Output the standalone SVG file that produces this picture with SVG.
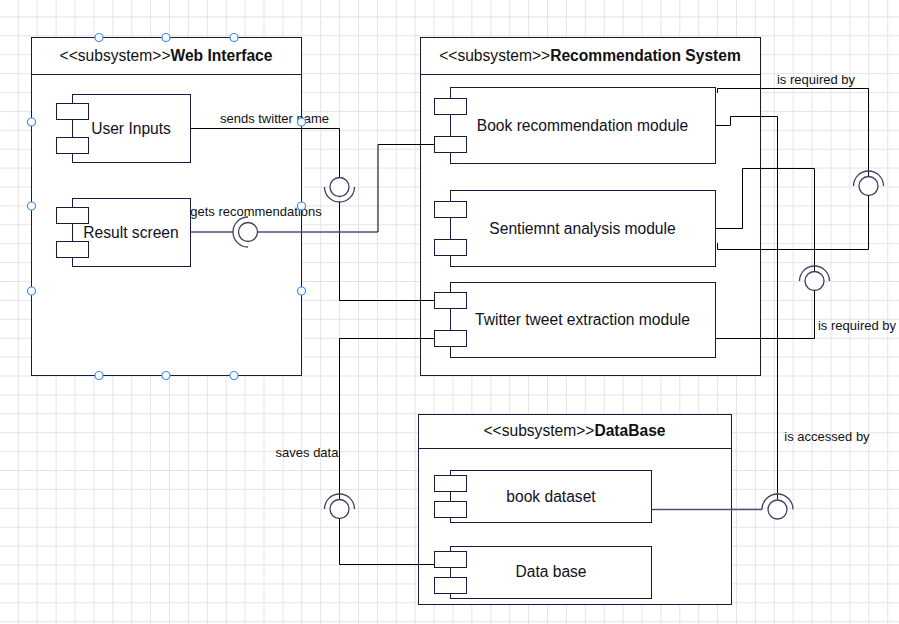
<svg xmlns="http://www.w3.org/2000/svg" width="899" height="624" viewBox="0 0 899 624">
<style>
  .box { fill: #ffffff; stroke: #1a1a3c; stroke-width: 1; }
  .port { fill: #ffffff; stroke: #1a1a3c; stroke-width: 1; }
  .title { font-family: "Liberation Sans", Arial, sans-serif; font-size: 15.6px; fill: #111111; text-anchor: middle; }
  .clabel { font-family: "Liberation Sans", Arial, sans-serif; font-size: 15.6px; fill: #111122; text-anchor: middle; }
  .elabel { font-family: "Liberation Sans", Arial, sans-serif; font-size: 13px; fill: #111111; text-anchor: middle; }
  .wire { fill: none; stroke: #000000; stroke-width: 1; }
  .wire2 { fill: none; stroke: #50506e; stroke-width: 1.3; }
  .ball { fill: #ffffff; stroke: #40405e; stroke-width: 1.3; }
  .sock { fill: none; stroke: #40405e; stroke-width: 1.3; }
  .handle { fill: #ffffff; stroke: #3d8ef0; stroke-width: 1.2; }
</style>
<defs>
  <pattern id="grid" patternUnits="userSpaceOnUse" x="-1.1" y="-2.5" width="18.9" height="18.9">
    <rect x="0" y="0" width="1" height="18.9" fill="#e4e4e4"/>
    <rect x="0" y="0" width="18.9" height="1" fill="#e4e4e4"/>
  </pattern>
  <g id="ports">
    <rect class="port" x="0" y="0" width="32" height="16"/>
  </g>
</defs>
<rect x="0" y="0" width="899" height="624" fill="#ffffff"/>
<rect x="0" y="0" width="899" height="624" fill="url(#grid)"/>

<g id="web-interface">
  <rect class="box" x="31.5" y="37.5" width="270" height="338"/>
  <line x1="31.5" y1="74.5" x2="301.5" y2="74.5" stroke="#1a1a3c"/>
  <text class="title" x="166" y="60.5">&lt;&lt;subsystem&gt;&gt;<tspan font-weight="bold">Web Interface</tspan></text>
</g>
<g id="user-inputs">
  <rect class="box" x="72.5" y="94.5" width="118" height="68"/>
  <rect class="port" x="56.5" y="103.5" width="32" height="16"/>
  <rect class="port" x="56.5" y="137.5" width="32" height="16"/>
  <text class="clabel" x="131" y="134">User Inputs</text>
</g>
<g id="result-screen">
  <rect class="box" x="72.5" y="198.5" width="118" height="68"/>
  <rect class="port" x="56.5" y="207.5" width="32" height="16"/>
  <rect class="port" x="56.5" y="241.5" width="32" height="16"/>
  <text class="clabel" x="131" y="237.5">Result screen</text>
</g>

<g id="recommendation-system">
  <rect class="box" x="420.5" y="37.5" width="340" height="338"/>
  <line x1="420.5" y1="74.5" x2="760.5" y2="74.5" stroke="#1a1a3c"/>
  <text class="title" x="590" y="60.5">&lt;&lt;subsystem&gt;&gt;<tspan font-weight="bold">Recommendation System</tspan></text>
</g>
<g id="book-recommendation">
  <rect class="box" x="450.5" y="87.5" width="265" height="76"/>
  <rect class="port" x="434.5" y="98.5" width="32" height="16"/>
  <rect class="port" x="434.5" y="136.5" width="32" height="16"/>
  <text class="clabel" x="582.5" y="131">Book recommendation module</text>
</g>
<g id="sentiment-analysis">
  <rect class="box" x="450.5" y="190.5" width="265" height="76"/>
  <rect class="port" x="434.5" y="201.5" width="32" height="16"/>
  <rect class="port" x="434.5" y="239.5" width="32" height="16"/>
  <text class="clabel" x="582.5" y="234">Sentiemnt analysis module</text>
</g>
<g id="twitter-extraction">
  <rect class="box" x="450.5" y="282.5" width="265" height="75"/>
  <rect class="port" x="434.5" y="292.5" width="32" height="16"/>
  <rect class="port" x="434.5" y="330.5" width="32" height="16"/>
  <text class="clabel" x="582.5" y="325">Twitter tweet extraction module</text>
</g>

<g id="database-subsystem">
  <rect class="box" x="418.5" y="414.5" width="313" height="190"/>
  <line x1="418.5" y1="448.5" x2="731.5" y2="448.5" stroke="#1a1a3c"/>
  <text class="title" x="574.5" y="435.7">&lt;&lt;subsystem&gt;&gt;<tspan font-weight="bold">DataBase</tspan></text>
</g>
<g id="book-dataset">
  <rect class="box" x="450.5" y="470.5" width="201" height="52"/>
  <rect class="port" x="434.5" y="475.5" width="32" height="16"/>
  <rect class="port" x="434.5" y="501.5" width="32" height="16"/>
  <text class="clabel" x="551" y="501.7">book dataset</text>
</g>
<g id="data-base">
  <rect class="box" x="450.5" y="546.5" width="201" height="52"/>
  <rect class="port" x="434.5" y="551.5" width="32" height="16"/>
  <rect class="port" x="434.5" y="577.5" width="32" height="16"/>
  <text class="clabel" x="551" y="577.3">Data base</text>
</g>

<g id="connectors">
  <!-- sends twitter name -->
  <polyline class="wire" points="190.5,128.5 339.5,128.5 339.5,177.5"/>
  <polyline class="wire" points="339.5,202 339.5,300.5 434.5,300.5"/>
  <circle class="ball" cx="339.5" cy="187" r="9.5"/>
  <path class="sock" d="M324.5,187 A15,15 0 0 0 354.5,187"/>
  <text class="elabel" x="274.5" y="122.7">sends twitter name</text>

  <!-- gets recommendations -->
  <line class="wire2" x1="190.5" y1="232" x2="233" y2="232"/>
  <polyline class="wire2" points="257.5,232 378,232"/>
  <polyline class="wire" points="378,232 378,144.5 434.5,144.5"/>
  <circle class="ball" cx="248" cy="232" r="9.5"/>
  <path class="sock" d="M248,217 A15,15 0 0 0 248,247"/>
  <text class="elabel" x="256" y="215.7">gets recommendations</text>

  <!-- Book rec <- required by Sentiment -->
  <polyline class="wire" points="717.5,93 717.5,88.5 868.5,88.5 868.5,176"/>
  <polyline class="wire" points="868.5,196 868.5,249.5 717.5,249.5 717.5,243"/>
  <circle class="ball" cx="868.5" cy="186" r="9.5"/>
  <path class="sock" d="M853.5,186 A15,15 0 0 1 883.5,186"/>
  <text class="elabel" x="816" y="84">is required by</text>

  <!-- Sentiment <- required by Twitter -->
  <polyline class="wire" points="715.5,228.5 742.5,228.5 742.5,168.5 814.5,168.5 814.5,271"/>
  <polyline class="wire" points="814.5,291 814.5,338.5 715.5,338.5"/>
  <circle class="ball" cx="814.5" cy="281" r="9.5"/>
  <path class="sock" d="M799.5,281 A15,15 0 0 1 829.5,281"/>
  <text class="elabel" x="857" y="330">is required by</text>

  <!-- Book rec accesses book dataset -->
  <polyline class="wire" points="715.5,125.5 730.5,125.5 730.5,116.5 777.5,116.5 777.5,499.5"/>
  <line class="wire2" x1="651.5" y1="509.5" x2="762" y2="509.5"/>
  <circle class="ball" cx="777.5" cy="509.5" r="9.5"/>
  <path class="sock" d="M762,509.5 A15.5,15.5 0 0 1 793,509.5"/>
  <text class="elabel" x="827" y="440.7">is accessed by</text>

  <!-- saves data -->
  <polyline class="wire" points="434.5,338.5 339.5,338.5 339.5,499.5"/>
  <polyline class="wire" points="339.5,519 339.5,564.5 434.5,564.5"/>
  <circle class="ball" cx="339.5" cy="509" r="9.5"/>
  <path class="sock" d="M324.5,509 A15,15 0 0 1 354.5,509"/>
  <text class="elabel" x="307" y="457">saves data</text>
</g>

<g id="selection-handles">
  <circle class="handle" cx="99" cy="37.5" r="4"/>
  <circle class="handle" cx="166" cy="37.5" r="4"/>
  <circle class="handle" cx="234" cy="37.5" r="4"/>
  <circle class="handle" cx="31.5" cy="122" r="4"/>
  <circle class="handle" cx="31.5" cy="206" r="4"/>
  <circle class="handle" cx="31.5" cy="291" r="4"/>
  <circle class="handle" cx="301.5" cy="122" r="4"/>
  <circle class="handle" cx="301.5" cy="206" r="4"/>
  <circle class="handle" cx="301.5" cy="291" r="4"/>
  <circle class="handle" cx="99" cy="375.5" r="4"/>
  <circle class="handle" cx="166" cy="375.5" r="4"/>
  <circle class="handle" cx="234" cy="375.5" r="4"/>
</g>
</svg>
